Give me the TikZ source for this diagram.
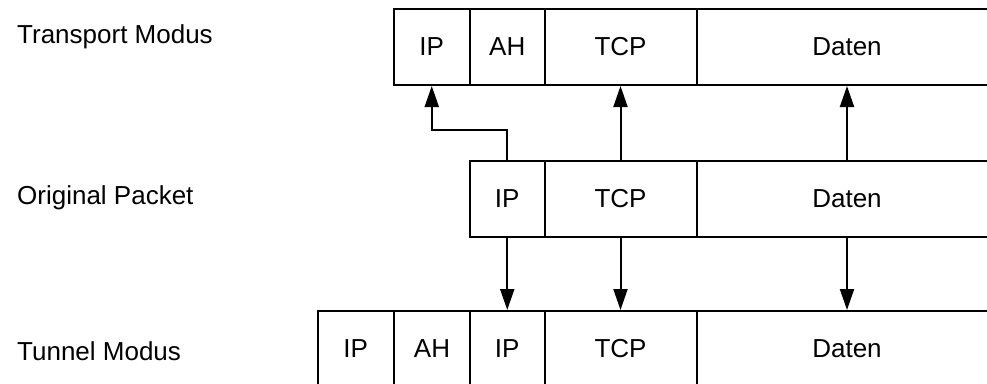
\documentclass[tikz,border=0pt]{standalone}
\usepackage{fontspec}
\setmainfont{Liberation Sans}
\usetikzlibrary{arrows.meta}
\begin{document}
\begin{tikzpicture}[x=1pt,y=-1pt,
  every node/.style={font=\fontsize{26}{31}\selectfont},
  box/.style={draw, line width=2pt, rectangle, inner sep=0pt, minimum height=76pt, anchor=center},
  lbl/.style={anchor=base west, inner sep=0pt},
  arr/.style={line width=2pt, -{Triangle[length=21pt,width=14pt]}}]
\useasboundingbox (0,0) rectangle (987,383);
\clip (0,0) rectangle (987,383);
% top row: Transport Modus
\node[box, minimum width=76.5pt] (tip) at (431.75,47) {IP};
\node[box, minimum width=74.5pt] (tah) at (507.25,47) {AH};
\node[box, minimum width=152pt] (ttcp) at (620.5,47) {TCP};
\node[box, minimum width=301pt] (tdat) at (847,47) {Daten};
% middle row: Original Packet
\node[box, minimum width=74.5pt] (mip) at (507.25,198.5) {IP};
\node[box, minimum width=152pt] (mtcp) at (620.5,198.5) {TCP};
\node[box, minimum width=301pt] (mdat) at (847,198.5) {Daten};
% bottom row: Tunnel Modus
\node[box, minimum width=76.5pt] (bip1) at (355.75,349) {IP};
\node[box, minimum width=76pt] (bah) at (432,349) {AH};
\node[box, minimum width=74.5pt] (bip2) at (507.25,349) {IP};
\node[box, minimum width=152pt] (btcp) at (620.5,349) {TCP};
\node[box, minimum width=301pt] (bdat) at (847,349) {Daten};
% labels
\node[lbl] (l1) at (17,43) {Transport Modus};
\node[lbl] (l2) at (17,204) {Original Packet};
\node[lbl] (l3) at (17,360) {Tunnel Modus};
% connectors
\draw[arr] (mip.north) -- ++(0,-29.5) -| (tip.south);
\draw[arr] (mtcp.north) -- (ttcp.south);
\draw[arr] (mdat.north) -- (tdat.south);
\draw[arr] (mip.south) -- (bip2.north);
\draw[arr] (mtcp.south) -- (btcp.north);
\draw[arr] (mdat.south) -- (bdat.north);
\end{tikzpicture}
\end{document}
